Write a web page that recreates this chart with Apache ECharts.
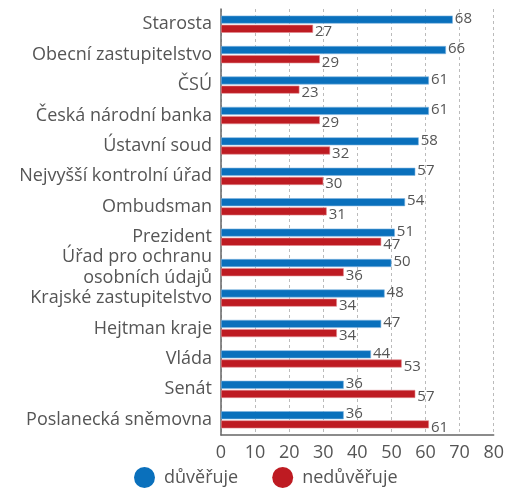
<!DOCTYPE html>
<html>
<head>
<meta charset="utf-8">
<script src="https://cdn.jsdelivr.net/npm/echarts@6/dist/echarts.min.js"></script>
<style>
  html, body { margin: 0; padding: 0; background: #fff; }
  #chart { width: 507px; height: 488px; }
</style>
</head>
<body>
<div id="chart"></div>
<script>
// instituce (shora dolu)
var categories = ['Starosta', 'Obecní zastupitelstvo', 'ČSÚ', 'Česká národní banka', 'Ústavní soud',
  'Nejvyšší kontrolní úřad', 'Ombudsman', 'Prezident', 'Úřad pro ochranu\nosobních údajů',
  'Krajské zastupitelstvo', 'Hejtman kraje', 'Vláda', 'Senát', 'Poslanecká sněmovna'];
var duveruje = [68, 66, 61, 61, 58, 57, 54, 51, 50, 48, 47, 44, 36, 36];
var neduveruje = [27, 29, 23, 29, 32, 30, 31, 47, 36, 34, 34, 53, 57, 61];
var ticks = [0, 10, 20, 30, 40, 50, 60, 70, 80];

var font = 'Open Sans';
var grey = '#555555';

var chart = echarts.init(document.getElementById('chart'));

chart.setOption({
  backgroundColor: '#ffffff',
  textStyle: { fontFamily: font },
  grid: { left: 221, right: 10, top: 9, bottom: 53 },
  legend: {
    bottom: 0,
    left: 134,
    padding: 0,
    itemGap: 34,
    icon: 'circle',
    itemWidth: 23,
    itemHeight: 21,
    itemStyle: { borderWidth: 0 },
    textStyle: { fontSize: 18, color: grey, fontFamily: font, padding: [0, 0, 0, 3] },
    data: ['důvěřuje', 'nedůvěřuje']
  },
  xAxis: {
    type: 'value',
    min: ticks[0],
    max: ticks[ticks.length - 1],
    interval: 10,
    axisLine: { show: true, lineStyle: { color: '#666', width: 1.5 } },
    axisTick: { show: false },
    axisLabel: { color: grey, fontSize: 18, margin: 9 },
    splitLine: { show: true, lineStyle: { color: '#bbb', type: [3, 3] } }
  },
  yAxis: {
    type: 'category',
    inverse: true,
    data: categories,
    axisLine: { show: true, lineStyle: { color: '#666', width: 1.5 } },
    axisTick: { show: false },
    axisLabel: { color: grey, fontSize: 18, margin: 9, lineHeight: 21, align: 'right' }
  },
  series: [{
    name: 'důvěřuje',
    type: 'bar',
    data: duveruje,
    barWidth: 8,
    barGap: '15%',
    itemStyle: { color: '#0a70bc', borderColor: '#7fb6e0', borderWidth: 0.6 },
    label: { show: true, position: 'right', distance: 2, color: grey, fontSize: 15, offset: [0, -1] }
  }, {
    name: 'nedůvěřuje',
    type: 'bar',
    data: neduveruje,
    barWidth: 8,
    itemStyle: { color: '#be1b22', borderColor: '#e28a8e', borderWidth: 0.6 },
    label: { show: true, position: 'right', distance: 2, color: grey, fontSize: 15, offset: [0, 3] }
  }]
});
</script>
</body>
</html>
